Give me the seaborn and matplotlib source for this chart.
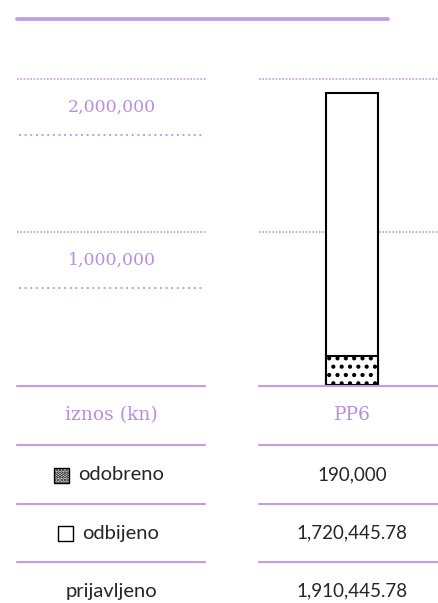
import matplotlib
matplotlib.use('Agg')
import matplotlib.pyplot as plt
import seaborn as sns
from matplotlib.lines import Line2D
from matplotlib.patches import Rectangle

# podaci
kategorije = ['PP6']
odobreno = [190000]
odbijeno = [1720445.78]
prijavljeno = [o + d for o, d in zip(odobreno, odbijeno)]
y_ticks = [1000000, 2000000]
y_tick_labels = ['1,000,000', '2,000,000']
redovi = ['odobreno', 'odbijeno', 'prijavljeno']
zaglavlje = ['iznos (kn)', 'PP6']

LJUB = '#c39be6'
TEKST_LJUB = '#b98fe2'
W, H = 438, 603

sns.set_style('white')
plt.rcParams['hatch.linewidth'] = 1.8
plt.rcParams['hatch.color'] = 'black'


def fx(x):
    return x / W


def fy(y):
    return 1 - y / H


def fmt(v):
    s = f'{v:,.2f}'
    return s[:-3] if s.endswith('.00') else s


fig = plt.figure(figsize=(W / 100, H / 100), dpi=100)

# gornja debela linija
fig.add_artist(Line2D([fx(17), fx(388)], [fy(19), fy(19)], color=LJUB, lw=2.7))

baseline = 385
px_per_unit = 153 / 1e6
ymax = 2.2e6
ax_h = ymax * px_per_unit

# stupac s grafom
ax = fig.add_axes([fx(259), fy(baseline), 179 / W, ax_h / H])
sns.barplot(x=kategorije, y=prijavljeno, color='white', edgecolor='black',
            linewidth=1.5, width=0.29, saturation=1, ax=ax, zorder=3)
sns.barplot(x=kategorije, y=odobreno, color='white', edgecolor='black',
            linewidth=1.5, width=0.29, saturation=1, hatch='..', ax=ax, zorder=4)
for t in y_ticks:
    ax.axhline(t, color=LJUB, lw=1.2, ls=(0, (1, 1.0)), zorder=1)
ax.set_xlim(-0.52, 0.48)
ax.set_ylim(0, ymax)
ax.axis('off')

# lijevi stupac s oznakama osi
lax = fig.add_axes([fx(17), fy(baseline), 190 / W, ax_h / H])
lax.set_xlim(0, 190)
lax.set_ylim(0, ymax)
lax.axis('off')
for t, lab in zip(y_ticks, y_tick_labels):
    lax.axhline(t, color=LJUB, lw=1.2, ls=(0, (1, 1.0)))
    lax.plot([2, 188], [t - 0.366e6] * 2, color=LJUB, lw=1.4, ls=(0, (1, 1.9)))
    lax.text(95, t - 0.183e6, lab, ha='center', va='center', color=TEKST_LJUB,
             fontsize=12.5, family='DejaVu Serif')

# tablica
for y in [386, 445, 504, 562]:
    fig.add_artist(Line2D([fx(17), fx(205)], [fy(y), fy(y)], color=LJUB, lw=1.5))
    fig.add_artist(Line2D([fx(259), fx(438)], [fy(y), fy(y)], color=LJUB, lw=1.5))

lx, rx = fx(111), fx(352)
fig.text(lx, fy(415), zaglavlje[0], ha='center', va='center', color=TEKST_LJUB,
         fontsize=13.5, family='DejaVu Serif')
fig.text(rx, fy(415), zaglavlje[1], ha='center', va='center', color=TEKST_LJUB,
         fontsize=13.5, family='DejaVu Serif')

vrijednosti = [odobreno[0], odbijeno[0], prijavljeno[0]]
row_y = [475, 533, 591]
for naziv, v, y in zip(redovi, vrijednosti, row_y):
    if naziv == 'odobreno':
        fig.add_artist(Rectangle((fx(54), fy(483)), 15 / W, 15 / H, facecolor='white',
                                 edgecolor='black', lw=1, hatch='.....',
                                 transform=fig.transFigure))
        fig.text(fx(78), fy(y), naziv, ha='left', va='center', fontsize=14.5, family='Lato')
    elif naziv == 'odbijeno':
        fig.add_artist(Rectangle((fx(58), fy(y + 8)), 15 / W, 15 / H, facecolor='white',
                                 edgecolor='black', lw=1, transform=fig.transFigure))
        fig.text(fx(82), fy(y), naziv, ha='left', va='center', fontsize=14.5, family='Lato')
    else:
        fig.text(lx, fy(y), naziv, ha='center', va='center', fontsize=14.5, family='Lato')
    fig.text(rx, fy(y), fmt(v), ha='center', va='center', fontsize=13.5, family='Lato')

fig.savefig('out.png', dpi=100)
